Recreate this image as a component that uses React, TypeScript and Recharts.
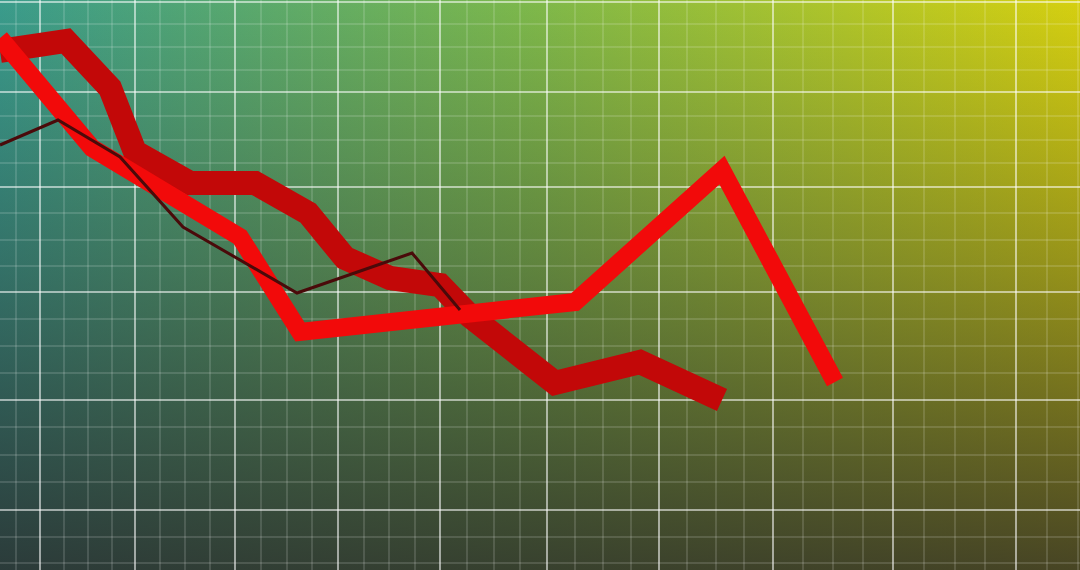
import { LineChart, Line, XAxis, YAxis, CartesianGrid } from 'recharts';

// thick dark ribbon
const ribbonT = [0, 6.6, 11, 13.5, 19, 25.5, 30.8, 34.5, 39, 44, 47, 55.5, 64, 72.2];
const ribbonV = [51.9, 52.9, 48.2, 41.8, 38.7, 38.7, 35.7, 31.2, 29.2, 28.5, 25.4, 18.7, 20.8, 17];

// bright red line
const brightT = [0, 9.2, 24, 30, 57.5, 72.2, 83.5];
const brightV = [53.2, 42.2, 33.3, 23.8, 26.8, 40, 18.8];

// thin dark line
const thinT = [0, 5.8, 12, 18.3, 29.7, 41.2, 46];
const thinV = [42.5, 45, 41.3, 34.3, 27.7, 31.7, 26];

// grid ticks
const majorX = [4, 13.5, 23.5, 33.8, 44, 54.7, 65.9, 77.3, 89.3, 101.6];
const minorX = [1.6, 6.4, 8.8, 11.2, 16, 18.5, 21, 26.1, 28.7, 31.2, 36.4, 38.9, 41.5, 46.7, 49.4, 52, 57.5, 60.3, 63.1, 68.7, 71.6, 74.4, 80.3, 83.3, 86.3, 92.4, 95.5, 98.5, 104.7, 107.8];
const majorY = [56.8, 47.8, 38.3, 27.8, 17, 6];
const minorY = [54.6, 52.3, 50, 45.4, 43, 40.7, 35.7, 33, 30.4, 25.1, 22.4, 19.7, 14.3, 11.5, 8.8, 3.3, 0.7];

const X_DOMAIN = [0, 108];
const Y_DOMAIN = [0, 57];

const toRows = (t: number[], v: number[]) => t.map((x, i) => ({ t: x, v: v[i] }));

const ribbon = toRows(ribbonT, ribbonV);
const bright = toRows(brightT, brightV);
const thin = toRows(thinT, thinV);

// map tick values through the axis scale handed to the grid generators
const mapX = (ticks: number[]) => (p: any) => {
    const s = p?.xAxis?.scale;
    if (typeof s === 'function') return ticks.map((t) => s(t));
    const o = p.offset;
    return ticks.map((t) => o.left + ((t - X_DOMAIN[0]) / (X_DOMAIN[1] - X_DOMAIN[0])) * o.width);
};
const mapY = (ticks: number[]) => (p: any) => {
    const s = p?.yAxis?.scale;
    if (typeof s === 'function') return ticks.map((t) => s(t));
    const o = p.offset;
    return ticks.map((t) => o.top + (1 - (t - Y_DOMAIN[0]) / (Y_DOMAIN[1] - Y_DOMAIN[0])) * o.height);
};

export default function App() {
    return (
        <div
            style={{
                position: 'absolute',
                left: 0,
                top: 0,
                width: 1080,
                height: 570,
                background:
                    'linear-gradient(180deg, rgba(40,38,40,0) 0%, rgba(40,38,40,0.35) 45%, rgba(40,38,40,0.82) 100%), linear-gradient(90deg, #3a9c8c 0%, #7cb84c 48%, #d6d010 100%)',
            }}
        >
            <LineChart width={1080} height={570} margin={{ top: 0, right: 0, bottom: 0, left: 0 }}>
                <XAxis dataKey="t" type="number" domain={X_DOMAIN} allowDataOverflow hide />
                <YAxis dataKey="v" type="number" domain={Y_DOMAIN} allowDataOverflow hide />
                <CartesianGrid
                    stroke="rgba(255,255,255,0.28)"
                    strokeWidth={1}
                    verticalCoordinatesGenerator={mapX(minorX)}
                    horizontalCoordinatesGenerator={mapY(minorY)}
                />
                <CartesianGrid
                    stroke="rgba(255,255,255,0.55)"
                    strokeWidth={2}
                    verticalCoordinatesGenerator={mapX(majorX)}
                    horizontalCoordinatesGenerator={mapY(majorY)}
                />
                <Line data={ribbon} dataKey="v" type="linear" stroke="#c20808" strokeWidth={24} dot={false} activeDot={false} isAnimationActive={false} />
                <Line data={bright} dataKey="v" type="linear" stroke="#f20a0a" strokeWidth={18} dot={false} activeDot={false} isAnimationActive={false} />
                <Line data={thin} dataKey="v" type="linear" stroke="#4a0a0a" strokeWidth={3} dot={false} activeDot={false} isAnimationActive={false} />
            </LineChart>
        </div>
    );
}
